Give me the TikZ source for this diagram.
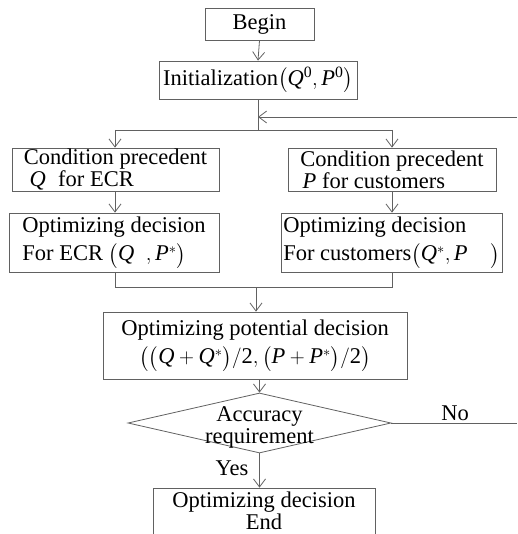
\documentclass[tikz,border=0pt]{standalone}
\usepackage{amsmath}
\usepackage{fontspec}
\setmainfont{Liberation Serif}
\usetikzlibrary{arrows.meta,shapes.geometric}
\begin{document}
\begin{tikzpicture}[x=1pt,y=-1pt,
  lncol/.style={draw=black!62, line width=0.8pt},
  box/.style={lncol, rectangle, inner ysep=0pt, inner xsep=0pt, font=\fontsize{22.5}{22}\selectfont, text=black},
  lbox/.style={box, align=left},
  cbox/.style={box, align=center},
  ln/.style={lncol},
  arr/.style={lncol, -{Straight Barb[length=8pt,width=12pt,line width=0.8pt]}},
  txt/.style={font=\fontsize{22.5}{22}\selectfont, inner sep=0pt, align=center, text=black}]
\useasboundingbox (0,0) rectangle (517,534);

\node[cbox, minimum width=109pt, minimum height=32pt] (begin) at (259.5,24) {Begin};
\node[cbox, minimum width=198pt, minimum height=38pt] (init) at (258,80)
  {Initialization$\bigl(\mathit{Q}^{\mathrm{0}},\mathit{P}^{\mathrm{0}}\bigr)$};

\node[lbox, minimum width=207pt, minimum height=43pt] (cpq) at (115.5,169.5)
  {Condition precedent\\ \hspace{0.25em}\textit{Q}\hspace{0.3em} for ECR};
\node[lbox, minimum width=208pt, minimum height=43pt] (cpp) at (392,169.5)
  {Condition precedent\\ \hspace{0.1em}\textit{P} for customers};

\node[lbox, minimum width=210pt, minimum height=59pt] (odq) at (114,242.5)
  {Optimizing decision\\[5pt] For ECR $\bigl(\mathit{Q}\;\;,\mathit{P}^{*}\bigr)$\hspace{1.2em}};
\node[lbox, minimum width=221pt, minimum height=59pt] (odp) at (391.5,242.5)
  {Optimizing decision\\[5pt] For customers$\bigl(\mathit{Q}^{*},\mathit{P}\quad\bigr)$};

\node[cbox, minimum width=304pt, minimum height=67pt] (pot) at (255,345.5)
  {Optimizing potential decision\\[5pt] $\bigl(\bigl(\mathit{Q}+\mathit{Q}^{*}\bigr)/\mathrm{2},\bigl(\mathit{P}+\mathit{P}^{*}\bigr)/\mathrm{2}\bigr)$};

\node[lncol, diamond, inner sep=0pt, minimum width=263pt, minimum height=60pt] (acc) at (259.5,423) {};
\node[txt] (acctext) at (259.5,427) {Accuracy\\requirement};

\node[cbox, minimum width=222pt, minimum height=46pt] (end) at (264,511)
  {Optimizing decision\\End};

\node[txt] (no) at (455,413) {No};
\node[txt] (yes) at (232,468) {Yes};

% coordinates
\coordinate (split) at (258,130);
\coordinate (sL) at (115,130);
\coordinate (sR) at (392,130);
\coordinate (fbR) at (517,117);
\coordinate (fbL) at (258,117);
\coordinate (jL) at (115,287);
\coordinate (jR) at (392,287);
\coordinate (jM) at (256,287);
\coordinate (noR) at (517,423);

% connectors
\draw[arr] (begin.south) -- (init.north);
\draw[ln] (init.south) -- (split);
\draw[ln] (sL) -- (sR);
\draw[arr] (fbR) -- (fbL);
\draw[arr] (sL) -- (sL |- cpq.north);
\draw[arr] (sR) -- (sR |- cpp.north);
\draw[arr] (sL |- cpq.south) -- (sL |- odq.north);
\draw[arr] (sR |- cpp.south) -- (sR |- odp.north);
\draw[ln] (jL |- odq.south) -- (jL) -- (jR) -- (jR |- odp.south);
\draw[arr] (jM) -- (jM |- pot.north);
\draw[arr] (pot.south -| acc.north) -- (acc.north);
\draw[ln] (acc.east) -- (noR);
\draw[arr] (acc.south) -- (acc.south |- end.north);
\end{tikzpicture}
\end{document}
